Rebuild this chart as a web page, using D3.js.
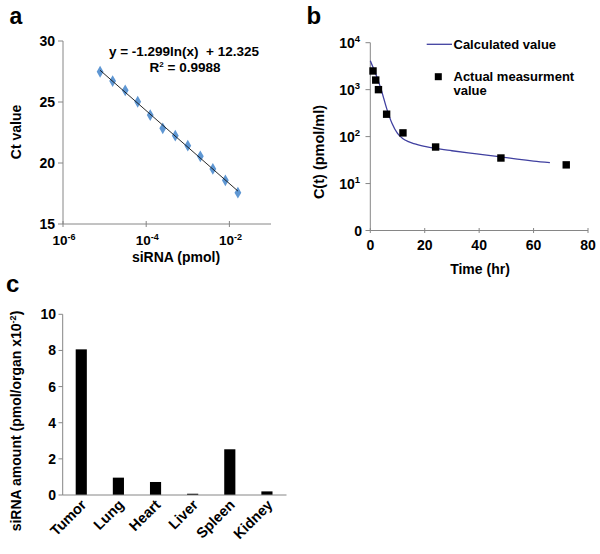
<!DOCTYPE html>
<html>
<head>
<meta charset="utf-8">
<script src="https://cdn.jsdelivr.net/npm/d3@7"></script>
<style>
  html, body { margin: 0; padding: 0; background: #fff; }
  #wrap { position: relative; width: 600px; height: 554px; }
  svg text { font-family: "Liberation Sans", Arial, sans-serif; font-weight: bold; fill: #000; }
  .organ-anchor { position: absolute; width: 0; height: 0; }
  .organ-label { position: absolute; right: 0; bottom: 0; white-space: nowrap;
    font-family: "Liberation Sans", Arial, sans-serif; font-weight: bold; font-size: 14.5px; line-height: 1; color: #000;
    transform-origin: 100% 100%; transform: rotate(-45deg); }
</style>
</head>
<body>
<div id="wrap"><svg id="chart" width="600" height="554"></svg></div>
<script>
// ---------- Data ----------
// Panel a: standard curve
const siRNAAmounts = [7.8e-6, 1.56e-5, 3.13e-5, 6.25e-5, 1.25e-4, 2.5e-4, 5e-4, 1e-3, 2e-3, 4e-3, 8e-3, 1.6e-2];
const ctValues = [27.48, 26.72, 25.96, 25.02, 23.93, 22.84, 22.24, 21.42, 20.55, 19.51, 18.58, 17.57];
const fitLineX = [7.8e-6, 1.6e-2];
const fitLineY = [27.6, 17.7];
const aYTicks = [15, 20, 25, 30];
const aXTicks = [1e-6, 1e-4, 1e-2];
const aXTickExp = ["-6", "-4", "-2"];
const equationText = "y = -1.299ln(x)  + 12.325";
const r2Text = "0.9988";

// Panel b: pharmacokinetics
const measTime = [1, 2, 3, 6, 12, 24, 48, 72];
const measConc = [2500, 1600, 1000, 300, 120, 60, 35, 25];
const calcTime = [0, 1, 2, 3, 4, 6, 8, 10, 12, 14, 16, 20, 24, 30, 36, 42, 48, 54, 60, 66];
const calcConc = [4150, 3000, 2150, 1500, 1000, 400, 190, 117, 90, 78, 71, 62, 56, 50, 45, 41, 37, 33, 30, 28];
const bYTicks = [1, 10, 100, 1000, 10000];
const bYTickBase = ["0", "10", "10", "10", "10"];
const bYTickExp = ["", "1", "2", "3", "4"];
const bXTicks = [0, 20, 40, 60, 80];
const legendLabels = ["Calculated value", "Actual measurment", "value"];

// Panel c: biodistribution
const organs = ["Tumor", "Lung", "Heart", "Liver", "Spleen", "Kidney"];
const organAmounts = [8.06, 0.96, 0.72, 0.07, 2.53, 0.2];
const cYTicks = [0, 2, 4, 6, 8, 10];

// ---------- Drawing ----------
const svg = d3.select("#chart");
const axisColor = "#868686";

function panelLetter(txt, x, y, size) {
  svg.append("text").attr("x", x).attr("y", y).attr("font-size", size).text(txt);
}

// ===== Panel a =====
panelLetter("a", 9.5, 23.5, 23);
const ax = d3.scaleLog().domain([1e-6, 1e-1]).range([63, 271]);
const ay = d3.scaleLinear().domain([15, 30]).range([224, 41]);
const ga = svg.append("g");
ga.append("line").attr("x1", ax(1e-6)).attr("x2", ax(1e-6)).attr("y1", ay(15)).attr("y2", ay(30)).attr("stroke", axisColor);
ga.append("line").attr("x1", ax(1e-6)).attr("x2", ax(1e-1)).attr("y1", ay(15)).attr("y2", ay(15)).attr("stroke", axisColor);
aYTicks.forEach(t => {
  ga.append("line").attr("x1", 58).attr("x2", 63).attr("y1", ay(t)).attr("y2", ay(t)).attr("stroke", axisColor);
  ga.append("text").attr("x", 55).attr("y", ay(t) + 5).attr("text-anchor", "end").attr("font-size", 14).text(t);
});
aXTicks.forEach((t, i) => {
  ga.append("line").attr("x1", ax(t)).attr("x2", ax(t)).attr("y1", 221).attr("y2", 227).attr("stroke", axisColor);
  const tx = ga.append("text").attr("x", ax(t) + 1).attr("y", 245).attr("text-anchor", "middle").attr("font-size", 13.5);
  tx.append("tspan").text("10");
  tx.append("tspan").attr("dy", -5).attr("font-size", 9).text(aXTickExp[i]);
});
ga.selectAll("path.pt").data(siRNAAmounts).join("path")
  .attr("class", "pt")
  .attr("d", d3.symbol().type(d3.symbolDiamond).size(40))
  .attr("transform", (d, i) => `translate(${ax(d)},${ay(ctValues[i])})`)
  .attr("fill", "#5f97d3");
ga.append("line")
  .attr("x1", ax(fitLineX[0])).attr("y1", ay(fitLineY[0]))
  .attr("x2", ax(fitLineX[1])).attr("y2", ay(fitLineY[1]))
  .attr("stroke", "#111").attr("stroke-width", 0.9);
ga.append("text").attr("x", 184).attr("y", 56).attr("text-anchor", "middle").attr("font-size", 13.5)
  .attr("xml:space", "preserve").style("white-space", "pre").text(equationText);
const r2 = ga.append("text").attr("x", 185).attr("y", 71.5).attr("text-anchor", "middle").attr("font-size", 13.5);
r2.append("tspan").text("R");
r2.append("tspan").attr("dy", -5).attr("font-size", 8).text("2");
r2.append("tspan").attr("dy", 5).text(" = " + r2Text);
ga.append("text").attr("transform", "translate(21,132) rotate(-90)").attr("text-anchor", "middle").attr("font-size", 14).text("Ct value");
ga.append("text").attr("x", 176).attr("y", 262).attr("text-anchor", "middle").attr("font-size", 14).text("siRNA (pmol)");

// ===== Panel b =====
panelLetter("b", 306.5, 24, 24);
const bx = d3.scaleLinear().domain([0, 80]).range([370.3, 588]);
const by = d3.scaleLog().domain([1, 10000]).range([230.5, 42.7]);
const gb = svg.append("g");
gb.append("line").attr("x1", bx(0)).attr("x2", bx(0)).attr("y1", by(1)).attr("y2", by(10000)).attr("stroke", axisColor);
gb.append("line").attr("x1", bx(0)).attr("x2", bx(80)).attr("y1", by(1)).attr("y2", by(1)).attr("stroke", axisColor);
bYTicks.forEach((t, i) => {
  gb.append("line").attr("x1", 365.5).attr("x2", 370.3).attr("y1", by(t)).attr("y2", by(t)).attr("stroke", axisColor);
  const tx = gb.append("text").attr("x", bYTickExp[i] ? 360 : 362).attr("y", by(t) + 5).attr("text-anchor", "end").attr("font-size", 14);
  tx.append("tspan").text(bYTickBase[i]);
  if (bYTickExp[i]) tx.append("tspan").attr("dy", -6).attr("font-size", 9.5).text(bYTickExp[i]);
});
bXTicks.forEach(t => {
  gb.append("line").attr("x1", bx(t)).attr("x2", bx(t)).attr("y1", 228).attr("y2", 233).attr("stroke", axisColor);
  gb.append("text").attr("x", bx(t)).attr("y", 250).attr("text-anchor", "middle").attr("font-size", 14).text(t);
});
const calcLine = d3.line().x(d => bx(d[0])).y(d => by(d[1])).curve(d3.curveMonotoneX);
gb.append("path").datum(calcTime.map((t, i) => [t, calcConc[i]]))
  .attr("d", calcLine).attr("fill", "none").attr("stroke", "#4040a0").attr("stroke-width", 1.3);
gb.selectAll("rect.m").data(measTime).join("rect").attr("class", "m")
  .attr("x", d => bx(d) - 3.7).attr("y", (d, i) => by(measConc[i]) - 3.7)
  .attr("width", 7.4).attr("height", 7.4).attr("fill", "#000");
// legend
gb.append("line").attr("x1", 426.7).attr("x2", 452).attr("y1", 44.3).attr("y2", 44.3).attr("stroke", "#4040a0").attr("stroke-width", 1.3);
gb.append("text").attr("x", 453.5).attr("y", 49).attr("font-size", 13).text(legendLabels[0]);
gb.append("rect").attr("x", 434.8).attr("y", 73.2).attr("width", 7).attr("height", 7).attr("fill", "#000");
gb.append("text").attr("x", 453.5).attr("y", 81).attr("font-size", 13).text(legendLabels[1]);
gb.append("text").attr("x", 453.5).attr("y", 94.5).attr("font-size", 13).text(legendLabels[2]);
gb.append("text").attr("transform", "translate(324,152) rotate(-90)").attr("text-anchor", "middle").attr("font-size", 14.5).text("C(t) (pmol/ml)");
gb.append("text").attr("x", 480).attr("y", 274).attr("text-anchor", "middle").attr("font-size", 14).text("Time (hr)");

// ===== Panel c =====
panelLetter("c", 6, 292, 24);
const cx = d3.scaleBand().domain(organs).range([62.7, 285.5]).paddingInner(0.7).paddingOuter(0.35);
const cy = d3.scaleLinear().domain([0, 10]).range([495, 314.3]);
const gc = svg.append("g");
gc.selectAll("rect.bar").data(organs).join("rect").attr("class", "bar")
  .attr("x", d => cx(d)).attr("width", cx.bandwidth())
  .attr("y", (d, i) => cy(organAmounts[i])).attr("height", (d, i) => cy(0) - cy(organAmounts[i]))
  .attr("fill", "#000");
gc.append("line").attr("x1", 62.7).attr("x2", 62.7).attr("y1", cy(0)).attr("y2", cy(10)).attr("stroke", axisColor);
gc.append("line").attr("x1", 62.7).attr("x2", 286.5).attr("y1", cy(0)).attr("y2", cy(0)).attr("stroke", axisColor);
cYTicks.forEach(t => {
  gc.append("line").attr("x1", 58.5).attr("x2", 62.7).attr("y1", cy(t)).attr("y2", cy(t)).attr("stroke", axisColor);
  gc.append("text").attr("x", 56).attr("y", cy(t) + 5).attr("text-anchor", "end").attr("font-size", 14).text(t);
});
// rotated category labels (HTML overlay, anchored at right end)
d3.select("#wrap").selectAll("div.organ-anchor").data(organs).join("div")
  .attr("class", "organ-anchor")
  .style("left", d => (cx(d) + cx.bandwidth() / 2 + 8) + "px")
  .style("top", (cy(0) + 12) + "px")
  .append("span").attr("class", "organ-label").text(d => d);
const ct = gc.append("text").attr("transform", "translate(21,421) rotate(-90)").attr("text-anchor", "middle").attr("font-size", 14);
ct.append("tspan").text("siRNA amount (pmol/organ x10");
ct.append("tspan").attr("dy", -5).attr("font-size", 9).text("-2");
ct.append("tspan").attr("dy", 5).text(")");
</script>
</body>
</html>
